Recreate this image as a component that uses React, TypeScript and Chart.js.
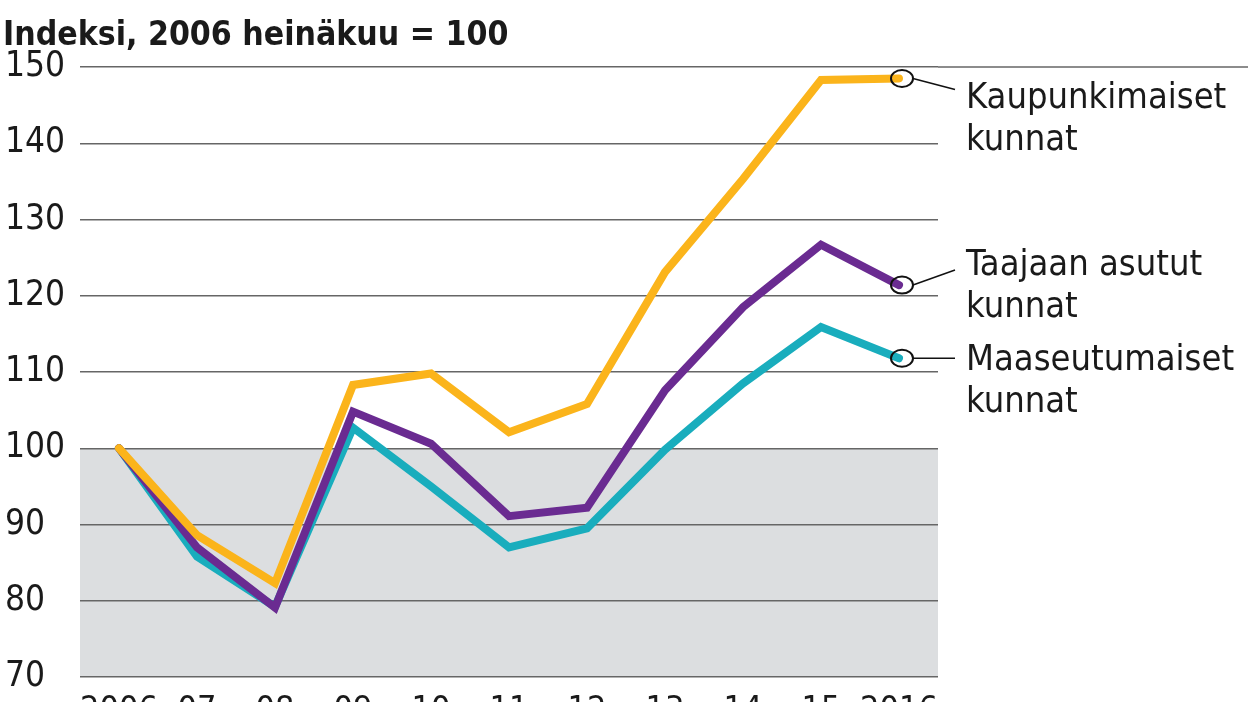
import { useEffect, useRef } from "react"
import { Chart, registerables } from "chart.js"

Chart.register(...registerables)

const years = ["2006", "07", "08", "09", "10", "11", "12", "13", "14", "15", "2016"]

const kaupunki = [100, 88.6, 82.3, 108.3, 109.8, 102.1, 105.8, 123.1, 135.3, 148.3, 148.5]
const taajaan = [100, 87.0, 79.1, 104.8, 100.6, 91.1, 92.2, 107.6, 118.5, 126.7, 121.4]
const maaseutu = [100, 85.8, 79.2, 102.7, 95.0, 87.0, 89.5, 99.8, 108.5, 115.9, 111.8]

const seriesNames = [
  ["Kaupunkimaiset", "kunnat"],
  ["Taajaan asutut", "kunnat"],
  ["Maaseutumaiset", "kunnat"],
]

const titleText = "Indeksi, 2006 heinäkuu = 100"

const FONT = "'Liberation Sans Narrow', 'DejaVu Sans Condensed', 'Open Sans', sans-serif"

// where the end labels sit, relative to the last point of each line
const labelLayout = [
  { textDy: 30, leaderDy: 11 },
  { textDy: -10, leaderDy: -15 },
  { textDy: 12, leaderDy: 0 },
]

const belowHundred = {
  id: "belowHundred",
  beforeDraw(chart: Chart) {
    const { ctx, chartArea, scales } = chart
    const y = scales.y.getPixelForValue(100)
    ctx.save()
    ctx.fillStyle = "#dcdee0"
    ctx.fillRect(chartArea.left, y, chartArea.right - chartArea.left, chartArea.bottom - y)
    ctx.restore()
  },
  afterDraw(chart: Chart) {
    const { ctx, chartArea, scales } = chart
    // top grid line runs to the edge
    const y = scales.y.getPixelForValue(150)
    ctx.save()
    ctx.strokeStyle = "#666"
    ctx.lineWidth = 1.5
    ctx.beginPath()
    ctx.moveTo(chartArea.right, y)
    ctx.lineTo(chart.width, y)
    ctx.stroke()

    ctx.fillStyle = "#1a1a1a"
    ctx.font = `bold 33.5px ${FONT}`
    ctx.textBaseline = "alphabetic"
    ctx.textAlign = "left"
    ctx.fillText(titleText, 3, 45)
    ctx.restore()
  },
}

const endLabels = {
  id: "endLabels",
  afterDatasetsDraw(chart: Chart) {
    const { ctx } = chart
    ctx.save()
    chart.data.datasets.forEach((ds, i) => {
      const meta = chart.getDatasetMeta(i)
      const pt = meta.data[meta.data.length - 1]
      const cx = pt.x + 3
      const cy = pt.y
      const lay = labelLayout[i]
      ctx.strokeStyle = "#111"
      ctx.lineWidth = 2
      ctx.beginPath()
      ctx.ellipse(cx, cy, 11, 8.5, 0, 0, Math.PI * 2)
      ctx.stroke()

      ctx.lineWidth = 1.5
      ctx.beginPath()
      ctx.moveTo(cx + 11, cy)
      ctx.lineTo(955, cy + lay.leaderDy)
      ctx.stroke()

      ctx.fillStyle = "#1a1a1a"
      ctx.font = `36px ${FONT}`
      ctx.textAlign = "left"
      ctx.textBaseline = "alphabetic"
      seriesNames[i].forEach((line, j) => {
        ctx.fillText(line, 966, cy + lay.textDy + j * 42)
      })
    })
    ctx.restore()
  },
}

export default function App() {
  const chartRef = useRef<HTMLCanvasElement>(null)
  const chartInstance = useRef<Chart | null>(null)

  useEffect(() => {
    if (!chartRef.current) return
    if (chartInstance.current) {
      chartInstance.current.destroy()
    }
    const ctx = chartRef.current.getContext("2d")
    if (!ctx) return

    chartInstance.current = new Chart(ctx, {
      type: "line",
      data: {
        labels: years,
        datasets: [
          { label: seriesNames[0].join(" "), data: kaupunki, borderColor: "#fbb41b" },
          { label: seriesNames[1].join(" "), data: taajaan, borderColor: "#6a2b91" },
          { label: seriesNames[2].join(" "), data: maaseutu, borderColor: "#19adbd" },
        ].map((d) => ({
          ...d,
          borderWidth: 8,
          pointRadius: 0,
          tension: 0,
          fill: false,
          borderCapStyle: "round" as const,
        })),
      },
      plugins: [belowHundred, endLabels],
      options: {
        animation: false,
        responsive: true,
        maintainAspectRatio: false,
        layout: { padding: { top: 67, right: 310, left: 5, bottom: 0 } },
        plugins: {
          legend: { display: false },
          tooltip: { enabled: false },
          title: { display: false },
        },
        scales: {
          x: {
            type: "category",
            offset: true,
            grid: { display: false },
            border: { display: false },
            ticks: {
              color: "#1a1a1a",
              font: { family: FONT, size: 34 },
              padding: 6,
              maxRotation: 0,
              autoSkip: false,
            },
            afterFit: (scale: any) => {
              scale.height = 63
            },
          },
          y: {
            min: 70,
            max: 150,
            grid: { color: "#666", lineWidth: 1.5, drawTicks: false },
            border: { display: false },
            ticks: {
              stepSize: 10,
              color: "#1a1a1a",
              font: { family: FONT, size: 35 },
              crossAlign: "far",
            },
            afterFit: (scale: any) => {
              scale.width = 75
            },
          },
        },
      },
    })

    return () => {
      if (chartInstance.current) {
        chartInstance.current.destroy()
        chartInstance.current = null
      }
    }
  }, [])

  return (
    <div style={{ position: "fixed", left: 0, top: 0, width: 1248, height: 702, overflow: "hidden", background: "#fff" }}>
      <div style={{ position: "relative", width: 1248, height: 740 }}>
        <canvas ref={chartRef} />
      </div>
    </div>
  )
}
